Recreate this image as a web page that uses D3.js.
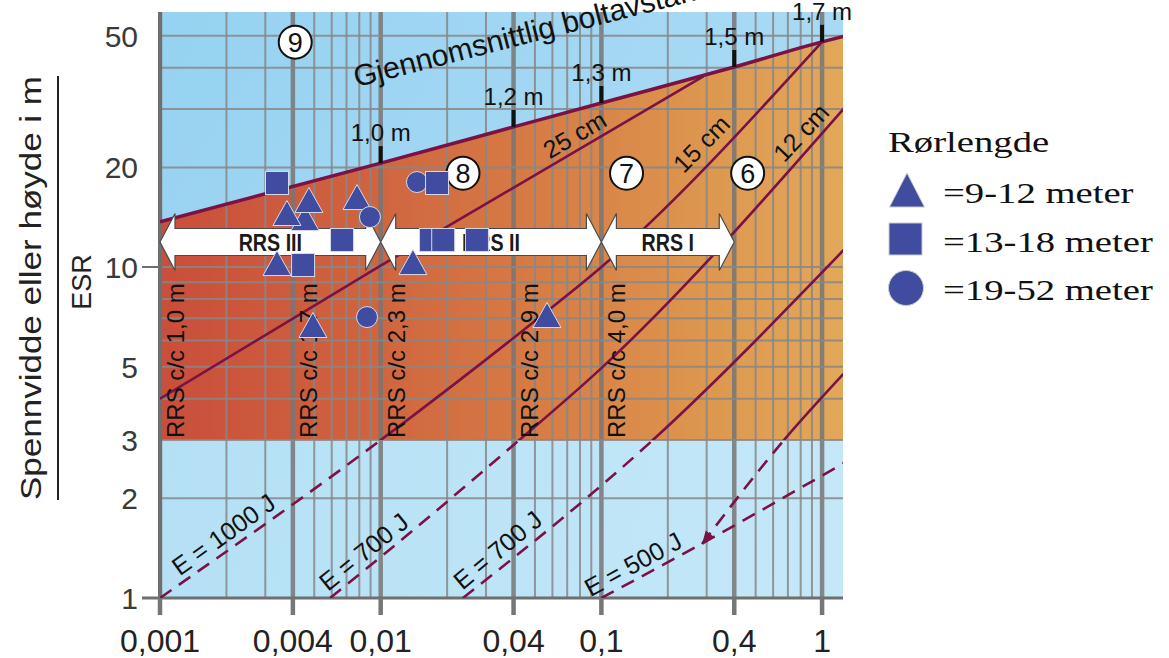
<!DOCTYPE html>
<html>
<head>
<meta charset="utf-8">
<script src="https://cdn.jsdelivr.net/npm/d3@7"></script>
<style>
  html, body { margin: 0; padding: 0; background: #fff; }
  svg { display: block; }
</style>
</head>
<body>
<svg id="chart" width="1169" height="658"></svg>
<script>
// ---- axis ticks --------------------------------------------------------
const qTicks = [0.001, 0.004, 0.01, 0.04, 0.1, 0.4, 1];
const qTickLabels = ["0,001", "0,004", "0,01", "0,04", "0,1", "0,4", "1"];
const spanTicks = [1, 2, 3, 5, 10, 20, 50];
const spanTickLabels = ["1", "2", "3", "5", "10", "20", "50"];

// ---- upper limit of the shotcrete zone (average bolt spacing) ----------
const boltLine = [[0.001, 13.7], [0.01, 20.6], [0.04, 26.5], [0.1, 31.3], [0.4, 40.2], [1, 47.9], [1.26, 49.8]];
const boltTickQ = [0.01, 0.04, 0.1, 0.4, 1];
const boltTickLabels = ["1,0 m", "1,2 m", "1,3 m", "1,5 m", "1,7 m"];
const shotcreteFloor = 3;

// ---- shotcrete thickness / energy absorption curves ---------------------
const curve25cm = [[0.001, 4.0], [0.01, 10.1], [0.29, 37.7]];
const curve15cm = [[0.001, 1.0], [0.01, 3.0], [0.049, 6.8], [0.1, 10.0], [1, 47.9]];
const curve12cm = [[0.0059, 1.0], [0.01, 1.33], [0.04, 2.9], [0.1, 4.95], [1.26, 30.2]];
const curveD = [[0.0236, 1.0], [0.171, 3.0], [1.26, 11.3]];
const curveE = [[0.2857, 1.456], [0.672, 3.0], [1.26, 4.78]];
const curveF = [[0.1, 1.0], [0.28, 1.45], [1.26, 2.56]];

// ---- RRS zones -------------------------------------------------------------
const rrsNames = ["RRS III", "RRS II", "RRS I"];
const rrsFromQ = [0.001, 0.01, 0.1];
const rrsToQ = [0.01, 0.1, 0.4];
const rrsSpan = 11.9;
const rrsSpacingText = ["RRS  c/c 1,0 m", "RRS  c/c 1,7 m", "RRS  c/c 2,3 m", "RRS  c/c 2,9 m", "RRS  c/c 4,0 m"];
const rrsSpacingQ = [0.001, 0.004, 0.01, 0.04, 0.1];

// ---- support classes ---------------------------------------------------------
const zoneIds = ["9", "8", "7", "6"];
const zoneQ = [0.0041, 0.0236, 0.13, 0.46];
const zoneSpan = [47.8, 19.2, 19.2, 19.2];

// ---- observations by pipe length (Q, span/ESR) ------------------------------
const pipes9to12 = [[0.00454, 14.06], [0.00376, 14.56], [0.00473, 15.94], [0.00781, 16.27],
                    [0.00339, 10.28], [0.00493, 6.68], [0.0140, 10.35], [0.0567, 7.16]];
const pipes13to18 = [[0.00339, 17.94], [0.00445, 10.14], [0.00668, 12.07], [0.0169, 12.07],
                     [0.0192, 12.07], [0.0273, 12.07], [0.0180, 17.94]];
const pipes19to52 = [[0.0146, 18.06], [0.00894, 14.16], [0.00867, 7.06]];
const legendTitle = "Rørlengde";
const legendItems = ["=9-12 meter", "=13-18 meter", "=19-52 meter"];

// ---- layout ------------------------------------------------------------------
const plot = { left: 160, right: 843, top: 12, bottom: 598 };
const x = d3.scaleLog().domain([0.001, 1.244]).range([plot.left, plot.right]);
const y = d3.scaleLog().domain([1, 58.95]).range([plot.bottom, plot.top]);

const SANS = "'Liberation Sans', Arial, sans-serif";
const SERIF = "'Liberation Serif', 'Times New Roman', serif";
const PURPLE = "#7a1246";
const MARK = "#3f4c9f";

const svg = d3.select("#chart");
const defs = svg.append("defs");

function gradient(id, stops, x1, y1, x2, y2) {
  const g = defs.append("linearGradient").attr("id", id)
    .attr("gradientUnits", "userSpaceOnUse")
    .attr("x1", x1).attr("y1", y1).attr("x2", x2).attr("y2", y2);
  stops.forEach(([o, c]) => g.append("stop").attr("offset", o).attr("stop-color", c));
}
gradient("skyTop", [[0, "#96d2f1"], [1, "#b0ddf5"]], plot.left, plot.top, plot.right, y(3));
gradient("skyLow", [[0, "#b4e0f5"], [1, "#c5e8f8"]], plot.left, y(3), plot.right, plot.bottom);
gradient("shot", [[0, "#c94e3b"], [0.3, "#cf633f"], [0.5, "#d57743"], [0.65, "#d98648"],
                  [0.8, "#dd974f"], [1, "#e2a85a"]], plot.left, 0, plot.right, 0);

const shotArea = d3.area().x(d => x(d[0])).y0(y(shotcreteFloor)).y1(d => y(d[1])).curve(d3.curveMonotoneX);
const lineGen = d3.line().x(d => x(d[0])).y(d => y(d[1])).curve(d3.curveMonotoneX);

defs.append("clipPath").attr("id", "plotClip").append("rect")
  .attr("x", plot.left).attr("y", plot.top)
  .attr("width", plot.right - plot.left).attr("height", plot.bottom - plot.top);
defs.append("clipPath").attr("id", "shotClip").append("path").attr("d", shotArea(boltLine));
defs.append("clipPath").attr("id", "lowClip").append("rect")
  .attr("x", plot.left).attr("y", y(shotcreteFloor))
  .attr("width", plot.right - plot.left).attr("height", plot.bottom - y(shotcreteFloor));

// ---- backgrounds -------------------------------------------------------------
const plotG = svg.append("g").attr("clip-path", "url(#plotClip)");
plotG.append("rect").attr("x", plot.left).attr("y", plot.top)
  .attr("width", plot.right - plot.left).attr("height", y(3) - plot.top).attr("fill", "url(#skyTop)");
plotG.append("rect").attr("x", plot.left).attr("y", y(3))
  .attr("width", plot.right - plot.left).attr("height", plot.bottom - y(3)).attr("fill", "url(#skyLow)");
plotG.append("path").attr("d", shotArea(boltLine)).attr("fill", "url(#shot)");

// ---- grid --------------------------------------------------------------------
const majorQ = new Set(qTicks.map(q => +q.toPrecision(3)));
x.ticks().forEach(q => {
  const major = majorQ.has(+q.toPrecision(3));
  plotG.append("line")
    .attr("x1", x(q)).attr("x2", x(q)).attr("y1", plot.top).attr("y2", plot.bottom)
    .attr("stroke", major ? "#767676" : "#878787")
    .attr("stroke-opacity", 0.85)
    .attr("stroke-width", major ? 4.5 : 2);
});
y.ticks().forEach(v => {
  plotG.append("line")
    .attr("x1", plot.left).attr("x2", plot.right).attr("y1", y(v)).attr("y2", y(v))
    .attr("stroke", "#878787").attr("stroke-opacity", 0.85).attr("stroke-width", 2);
});

// ---- axes --------------------------------------------------------------------
const axG = svg.append("g");
axG.append("line").attr("x1", 142).attr("x2", plot.right).attr("y1", y(1)).attr("y2", y(1))
  .attr("stroke", "#6f6f6f").attr("stroke-width", 3);
axG.append("line").attr("x1", 142).attr("x2", plot.left).attr("y1", y(10)).attr("y2", y(10))
  .attr("stroke", "#6f6f6f").attr("stroke-width", 2);
axG.append("line").attr("x1", plot.left).attr("x2", plot.left).attr("y1", plot.top).attr("y2", plot.bottom + 17)
  .attr("stroke", "#6f6f6f").attr("stroke-width", 4);
qTicks.forEach((q, i) => {
  axG.append("line").attr("x1", x(q)).attr("x2", x(q)).attr("y1", plot.bottom).attr("y2", plot.bottom + 17)
    .attr("stroke", "#767676").attr("stroke-width", 4.5);
  axG.append("text").attr("x", x(q)).attr("y", 652).attr("text-anchor", "middle")
    .attr("font-family", SANS).attr("font-size", 32).attr("fill", "#222")
    .text(qTickLabels[i]);
});
spanTicks.forEach((v, i) => {
  axG.append("text").attr("x", 138).attr("y", y(v) + 11).attr("text-anchor", "end")
    .attr("font-family", SANS).attr("font-size", 30).attr("fill", "#3a3a3a")
    .text(spanTickLabels[i]);
});
// axis title as a fraction
axG.append("text").attr("transform", "translate(41,288) rotate(-90)")
  .attr("text-anchor", "middle").attr("font-family", SANS).attr("font-size", 30).attr("fill", "#222")
  .attr("textLength", 424).attr("lengthAdjust", "spacingAndGlyphs")
  .text("Spennvidde eller høyde i m");
axG.append("line").attr("x1", 58).attr("x2", 58).attr("y1", 76).attr("y2", 500)
  .attr("stroke", "#222").attr("stroke-width", 2);
axG.append("text").attr("transform", "translate(91,282) rotate(-90)")
  .attr("text-anchor", "middle").attr("font-family", SANS).attr("font-size", 27).attr("fill", "#222")
  .text("ESR");

// ---- curves ------------------------------------------------------------------
const allCurves = [curve25cm, curve15cm, curve12cm, curveD, curveE, curveF];
const solidG = svg.append("g").attr("clip-path", "url(#plotClip)")
  .append("g").attr("clip-path", "url(#shotClip)");
const dashG = svg.append("g").attr("clip-path", "url(#lowClip)");
allCurves.forEach(c => {
  solidG.append("path").attr("d", lineGen(c)).attr("fill", "none")
    .attr("stroke", PURPLE).attr("stroke-width", 2.6);
  dashG.append("path").attr("d", lineGen(c)).attr("fill", "none")
    .attr("stroke", PURPLE).attr("stroke-width", 2.6).attr("stroke-dasharray", "14,9");
});
// arrowhead where curve E meets curve F
{
  const p0 = [x(curveE[0][0]), y(curveE[0][1])];
  const p1 = [x(curveE[1][0]), y(curveE[1][1])];
  const len = Math.hypot(p1[0] - p0[0], p1[1] - p0[1]);
  const u = [(p1[0] - p0[0]) / len, (p1[1] - p0[1]) / len];
  const n = [-u[1], u[0]];
  const b = [p0[0] + u[0] * 13, p0[1] + u[1] * 13];
  svg.append("path")
    .attr("d", `M${p0[0]},${p0[1]}L${b[0] + n[0] * 5.5},${b[1] + n[1] * 5.5}L${b[0] - n[0] * 5.5},${b[1] - n[1] * 5.5}Z`)
    .attr("fill", PURPLE);
}

// bolt spacing limit
svg.append("g").attr("clip-path", "url(#plotClip)").append("path")
  .attr("d", lineGen(boltLine)).attr("fill", "none").attr("stroke", PURPLE).attr("stroke-width", 3.5);

function logInterp(c, q) {
  for (let i = 0; i < c.length - 1; i++) {
    const [q0, v0] = c[i], [q1, v1] = c[i + 1];
    if ((q >= q0 && q <= q1) || i === c.length - 2) {
      const t = (Math.log(q) - Math.log(q0)) / (Math.log(q1) - Math.log(q0));
      return Math.exp(Math.log(v0) + t * (Math.log(v1) - Math.log(v0)));
    }
  }
}
function onCurve(c, q) {
  const qa = q / 1.08, qb = q * 1.08;
  const ang = Math.atan2(y(logInterp(c, qb)) - y(logInterp(c, qa)), x(qb) - x(qa)) * 180 / Math.PI;
  return { px: x(q), py: y(logInterp(c, q)), ang };
}

// bolt spacing ticks and labels
boltTickQ.forEach((q, i) => {
  const py = y(logInterp(boltLine, q));
  svg.append("line").attr("x1", x(q)).attr("x2", x(q)).attr("y1", py).attr("y2", py - 17)
    .attr("stroke", "#111").attr("stroke-width", 4);
  svg.append("text").attr("x", x(q)).attr("y", py - 22).attr("text-anchor", "middle")
    .attr("font-family", SANS).attr("font-size", 24).attr("fill", "#111")
    .text(boltTickLabels[i]);
});
{
  const p = onCurve(boltLine, 0.0081);
  svg.append("text")
    .attr("transform", `translate(${p.px - 4},${y(34.2) - 3}) rotate(${p.ang + 0.5})`)
    .attr("font-family", SANS).attr("font-size", 30).attr("fill", "#111")
    .text("Gjennomsnittlig boltavstand");
}

// curve labels
const curveLabelText = ["25 cm", "15 cm", "12 cm", "E = 1000 J", "E = 700 J", "E = 700 J", "E = 500 J"];
const curveLabelOn = [curve25cm, curve15cm, curve12cm, curve15cm, curve12cm, curveD, curveF];
const curveLabelQ = [0.0818, 0.317, 0.90, 0.00212, 0.00923, 0.0374, 0.1496];
curveLabelText.forEach((t, i) => {
  const p = onCurve(curveLabelOn[i], curveLabelQ[i]);
  svg.append("text")
    .attr("transform", `translate(${p.px},${p.py}) rotate(${p.ang})`)
    .attr("x", 0).attr("y", -6).attr("text-anchor", "middle")
    .attr("font-family", SANS).attr("font-size", 25).attr("fill", "#111")
    .text(t);
});

// support class numbers
zoneIds.forEach((id, i) => {
  const g = svg.append("g").attr("transform", `translate(${x(zoneQ[i])},${y(zoneSpan[i])})`);
  g.append("circle").attr("r", 16.5).attr("fill", "#fff").attr("stroke", "#111").attr("stroke-width", 2);
  g.append("text").attr("y", 9.5).attr("text-anchor", "middle")
    .attr("font-family", SANS).attr("font-size", 27).attr("fill", "#111").text(id);
});

// RRS spacing labels
rrsSpacingText.forEach((t, i) => {
  svg.append("text")
    .attr("transform", `translate(${x(rrsSpacingQ[i]) + 24},438) rotate(-90)`)
    .attr("font-family", SANS).attr("font-size", 24).attr("fill", "#111")
    .text(t);
});

// RRS double arrows
rrsNames.forEach((name, i) => {
  const x0 = x(rrsFromQ[i]), x1 = x(rrsToQ[i]), yc = y(rrsSpan);
  const h = 13.5, H = 28.5, L = 15;
  svg.append("path")
    .attr("d", `M${x0},${yc}L${x0 + L},${yc - H}L${x0 + L},${yc - h}L${x1 - L},${yc - h}L${x1 - L},${yc - H}` +
               `L${x1},${yc}L${x1 - L},${yc + H}L${x1 - L},${yc + h}L${x0 + L},${yc + h}L${x0 + L},${yc + H}Z`)
    .attr("fill", "#fff").attr("stroke", "#4a4a4a").attr("stroke-width", 1.2);
  svg.append("g").attr("transform", `translate(${(x0 + x1) / 2},${yc + 9}) scale(0.82,1)`)
    .append("text").attr("text-anchor", "middle")
    .attr("font-family", SANS).attr("font-weight", "bold").attr("font-size", 24).attr("fill", "#1a1a1a")
    .text(name);
});

// ---- observations ---------------------------------------------------------------
function triPath(w, h) { return `M0,${-h / 2}L${w / 2},${h / 2}L${-w / 2},${h / 2}Z`; }
const markG = svg.append("g");
pipes9to12.forEach(d => {
  markG.append("path").attr("d", triPath(28, 25))
    .attr("transform", `translate(${x(d[0])},${y(d[1])})`)
    .attr("fill", MARK).attr("stroke", "#d8d8e8").attr("stroke-width", 1);
});
pipes19to52.forEach(d => {
  markG.append("circle").attr("cx", x(d[0])).attr("cy", y(d[1])).attr("r", 10.5)
    .attr("fill", MARK).attr("stroke", "#d8d8e8").attr("stroke-width", 1);
});
pipes13to18.forEach(d => {
  markG.append("rect").attr("x", x(d[0]) - 11.5).attr("y", y(d[1]) - 11.5)
    .attr("width", 23).attr("height", 23)
    .attr("fill", MARK).attr("stroke", "#d8d8e8").attr("stroke-width", 1);
});

// ---- legend -----------------------------------------------------------------------
const lg = svg.append("g");
function serifText(tx, ty, t) {
  lg.append("g").attr("transform", `translate(${tx},${ty}) scale(1.29,1)`)
    .append("text").attr("font-family", SERIF).attr("font-size", 30).attr("fill", "#111").text(t);
}
serifText(888, 152, legendTitle);
lg.append("path").attr("d", triPath(35, 34)).attr("transform", "translate(907,190)")
  .attr("fill", MARK).attr("stroke", "#ccc").attr("stroke-width", 1);
lg.append("rect").attr("x", 889).attr("y", 223).attr("width", 33).attr("height", 32)
  .attr("fill", MARK).attr("stroke", "#ccc").attr("stroke-width", 1);
lg.append("circle").attr("cx", 906).attr("cy", 288).attr("r", 17.5)
  .attr("fill", MARK).attr("stroke", "#ccc").attr("stroke-width", 1);
[203, 252, 300].forEach((ty, i) => serifText(943, ty, legendItems[i]));
</script>
</body>
</html>
